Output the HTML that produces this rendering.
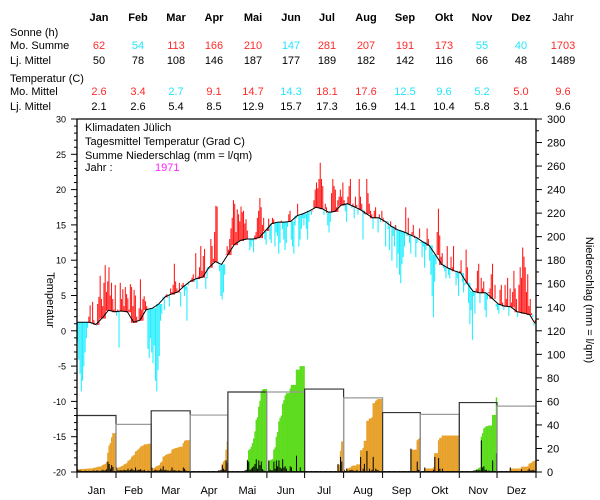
<!DOCTYPE html>
<html><head><meta charset="utf-8">
<style>
body{margin:0;background:#fff;width:600px;height:500px;overflow:hidden;font-family:"Liberation Sans",sans-serif;}
svg{position:absolute;left:0;top:0}
</style></head>
<body>
<svg id="c" width="600" height="500"></svg>
<script>
const months=["Jan","Feb","Mar","Apr","Mai","Jun","Jul","Aug","Sep","Okt","Nov","Dez"];
const monthDays=[31,28,31,30,31,30,31,31,30,31,30,31];
const sunSum=[62,54,113,166,210,147,281,207,191,173,55,40];
const sunSumYear=1703;
const sunMean=[50,78,108,146,187,177,189,182,142,116,66,48];
const sunMeanYear=1489;
const tMon=[2.6,3.4,2.7,9.1,14.7,14.3,18.1,17.6,12.5,9.6,5.2,5.0];
const tMonYear=9.6;
const tMean=[2.1,2.6,5.4,8.5,12.9,15.7,17.3,16.9,14.1,10.4,5.8,3.1];
const tMeanYear=9.6;
const tempTicks=[-20,-15,-10,-5,0,5,10,15,20,25,30];
const precTicks=[0,20,40,60,80,100,120,140,160,180,200,220,240,260,280,300];
// long-term mean temperature, every 5 days (last point = day 364)
const meanCurve=[1.2,1.2,1.2,0.9,1.8,2.9,2.7,2.8,2.7,1.2,1.5,3.0,3.2,3.8,4.8,5.2,5.5,6.3,7.0,7.4,7.6,9.0,9.8,9.4,10.8,12.2,12.8,13.0,13.0,13.2,14.2,15.2,15.4,15.4,15.5,16.3,16.6,17.0,17.5,17.3,16.8,16.9,17.8,18.0,17.6,17.2,16.6,16.0,16.0,15.5,14.8,14.3,14.0,13.6,13.2,12.6,12.1,10.8,9.4,8.9,8.5,8.2,6.8,5.6,5.4,5.4,4.6,3.8,3.5,3.4,2.7,2.5,2.3,1.1];
// daily mean temperature 1971
const tJan=[-1.5,-4,-6,-8.5,-7,-5,-3,-1,0.5,2,3.6,1.0,4.1,1.5,1.0,0.8,3.8,4.8,7.8,4.5,3.5,6.8,9.3,5.5,7.0,9.0,5.0,6.8,4.5,3.0,6.5];
const tFeb=[2.2,3.0,-2.3,6.8,4.5,5.9,3.5,6.2,5.2,4.6,3.0,6.6,6.2,3.5,5.8,5.0,2.0,1.5,3.2,7.3,3.0,4.5,4.9,4.2,3.5,-2.5,-3.8,-1.0];
const tMar=[-3,-4.5,-2,-7,-8.5,-5.5,-3.5,1.5,2.5,4.5,3.0,5.0,5.2,4.8,3.5,6.0,5.5,6.5,9.5,7.0,6.0,5.5,6.8,3.5,6.5,6.8,5.0,5.8,1.5,6.5,7.0];
const tApr=[7.2,7.5,8.0,7.0,11.0,6.0,7.7,9.0,12.0,8.5,10.6,11.6,6.0,7.5,9.0,8.8,13.0,12.0,10.2,14.0,17.7,17.6,9.5,8.5,5.0,4.5,5.5,8.0,10.8,12.0];
const tMai=[11.5,13.0,14.5,16.0,18.5,18.0,14.0,17.2,16.5,15.5,17.6,16.8,17.0,15.2,15.8,14.2,13.0,11.5,12.0,12.8,11.2,13.5,14.0,16.0,17.0,18.8,17.5,15.0,16.0,13.0,12.3];
const tJun=[14.5,15.9,13.0,12.5,16.0,15.8,12.0,14.0,13.5,11.0,12.5,15.6,14.5,13.0,11.5,12.5,14.8,16.5,17.0,13.0,12.0,11.0,15.0,16.0,18.0,12.0,13.0,14.5,16.0,15.0];
const tJul=[16.0,14.5,13.0,15.5,17.0,16.5,17.0,18.5,20.0,21.0,20.2,21.5,23.8,21.5,20.5,16.5,18.0,17.5,15.0,14.0,15.5,19.5,21.5,20.5,20.0,17.5,18.5,19.0,20.0,19.0,21.0];
const tAug=[18.5,17.0,15.5,19.0,20.5,21.5,17.5,18.0,16.0,19.0,17.8,16.5,21.5,19.0,18.0,13.0,17.0,16.5,21.5,19.5,18.0,17.0,16.5,14.5,17.0,17.5,16.0,14.0,16.5,15.5,17.0];
const tSep=[16.0,15.5,12.0,15.5,14.5,11.5,15.5,10.0,13.5,12.0,15.0,9.0,11.0,8.0,6.8,9.5,10.5,12.0,17.5,13.5,16.0,12.5,11.0,14.0,15.0,13.5,10.5,12.5,13.0,14.5];
const tOkt=[12.5,10.5,12.0,9.0,11.5,14.5,13.0,10.0,8.0,5.0,2.0,7.0,9.5,14.0,17.3,13.5,10.5,11.0,9.0,8.5,7.5,12.0,8.0,7.5,10.5,9.0,12.0,8.5,6.5,7.5,5.0];
const tNov=[8.5,10.0,7.0,5.5,6.5,11.5,9.0,4.0,1.0,3.0,-1.2,5.0,2.5,6.0,8.5,9.5,4.0,7.5,6.0,7.0,3.0,2.0,4.5,5.5,6.0,8.0,9.5,4.5,6.5,3.5];
const tDez=[3.0,2.5,5.8,6.5,4.0,3.0,6.5,4.5,7.5,2.2,6.0,4.0,5.5,8.5,6.0,4.5,2.0,6.5,9.0,7.5,11.8,10.5,9.0,5.5,8.0,3.5,4.5,2.5,2.0,0.8,1.5];
// daily precipitation 1971 (mm)
const pJan=[1.5,0.5,0.5,0,0,0,0.3,0,0,0.2,0,0,0.2,0.5,0,0.3,0.5,0,0.2,0.3,1,0.5,0.5,1.5,8,6,2,5,3.5,0,0];
const pFeb=[3,0.5,0.5,0.5,0.5,0.5,1,0.5,0.5,2,0.5,1,2,1,0.5,3,0.5,1,1,1.5,0.5,0.5,1,0,0,0.5,0,0];
const pMar=[3,0,0.5,1,0.5,0.5,0.5,2,1,4,0.5,1,0.5,0.5,0,0.5,3,0.5,0.5,0.5,0,0.5,0.3,0.2,0,3,2,0.5,0,0,0];
const pApr=[0,0,0,0,0,0,0,0,0,0,0,0,0,0,0,0,0,0,0,0,0,0,0.5,0.5,1,5,2,1,9,7];
const pMai=[0,0,0,0,0,0,0,0,0,0,0,0,0,0.5,1,9,8,1,2,3,4,6,10,2,9,5,8,1.5,0.5,0,0];
const pJun=[0,9,1,0.5,0.5,8,2,9,4,9,3,2,10,3,4,2,0,0,4,3,0,0,0,13,0,0,3,0,0,0];
const pJul=[0,0,0,0,0,0,0,0,0,0,0,0,0,0,0,0,0,0,0,0,0,0,0,0,0,0,6,0,12,8,0];
const pAug=[1,0,2,0,0.5,0.5,1,0.5,0,0,1,0,0,12,0,2,6,0,17,0,2,0,1,12,0,2,1,0.5,0,0,0];
const pSep=[0,0,0,0,0,0,0,0,0,0,0,0,0,0,0,0,0,0,0,0,0,0,19,0,0,0,0,8,1,1];
const pOkt=[0,0,0,3,0,0,0,0,0,0,1,12,0,0,11,2,0,2,0,0,0,0,0,0,0,0,0,0,0,0,0];
const pNov=[0,0,0,0,0,0,0,0,0,0,0,0.5,0.5,1,0.5,1,0.5,26,3,4,1,1,0,0.5,0,0,9,0,0,15];
const pDez=[0,0,0,0,0,0,0,0,0,0,3,0,0,0,0,0,0,0,0,1.5,0,0,0,0,0.5,2,0.5,0.5,1,0.5,0];
const pMean=[48,40.5,52,48.4,68,68,70.5,63,50.5,49,59,56];

const NS="http://www.w3.org/2000/svg";
const svg=document.getElementById('c');
function el(tag,attrs,parent){const e=document.createElementNS(NS,tag);for(const k in attrs)e.setAttribute(k,attrs[k]);(parent||svg).appendChild(e);return e;}
const X0=77,X1=536,Y0=472,Y1=119;
const dayW=(X1-X0)/365;
const xDay=d=>X0+d*dayW;
const yT=t=>Y0-(t+20)*(Y0-Y1)/50;
const yP=p=>Y0-p*(Y0-Y1)/300;
const F='"Liberation Sans",sans-serif';

// ---- table ----
const colX=[99,138,176,214,253,291,327,366,405,444,482,521];
function txt(x,y,s,opts){const t=el('text',Object.assign({x:x,y:y,'font-family':F,'font-size':11},opts||{}));t.textContent=s;return t;}
const hdr=el('g',{});


months.forEach((m,i)=>{hdr.appendChild(txt(colX[i],21,m,{'text-anchor':'middle','font-weight':'bold'}));});
hdr.appendChild(txt(563,21,"Jahr",{'text-anchor':'middle'}));
const rowLab=[["Sonne (h)",36],["Mo. Summe",49],["Lj. Mittel",64],["Temperatur (C)",82],["Mo. Mittel",95],["Lj. Mittel",110]];
const lab=el('g',{});


rowLab.forEach(r=>lab.appendChild(txt(10,r[1],r[0])));
function row(vals,yv,color,name,total,fmt){
  const g=el('g',{});
  
  
  vals.forEach((v,i)=>{const c=typeof color==='function'?color(i):color;g.appendChild(txt(colX[i],yv,fmt(v),{'text-anchor':'middle',fill:c}));});
  g.appendChild(txt(563,yv,fmt(total),{'text-anchor':'middle',fill:typeof color==='function'?'#ff2a2a':color}));
}
const RED='#ff2a2a',CY='#22e6ff';
row(sunSum,49,i=>sunSum[i]>=sunMean[i]?RED:CY,'sun-monthly-sum',sunSumYear,v=>String(v));
row(sunMean,64,'#000','sun-longterm-mean',sunMeanYear,v=>String(v));
row(tMon,95,i=>tMon[i]>=tMean[i]?RED:CY,'temp-monthly-mean',tMonYear,v=>v.toFixed(1));
row(tMean,110,'#000','temp-longterm-mean',tMeanYear,v=>v.toFixed(1));

// ---- precipitation (bottom) ----
const precip=[pJan,pFeb,pMar,pApr,pMai,pJun,pJul,pAug,pSep,pOkt,pNov,pDez];
const temps=[tJan,tFeb,tMar,tApr,tMai,tJun,tJul,tAug,tSep,tOkt,tNov,tDez];
let dStart=0;
const monthStart=[];
for(let m=0;m<12;m++){monthStart.push(dStart);dStart+=monthDays[m];}
monthStart.push(365);
for(let m=0;m<12;m++){
  const arr=precip[m];
  const tot=arr.reduce((a,b)=>a+b,0);
  const col=tot>pMean[m]?'#5ddc1e':'#e8a22c';
  let cum=0;
  arr.forEach((p,i)=>{
    cum+=p;
    const d=monthStart[m]+i;
    const r=el('rect',{x:xDay(d),y:yP(cum),width:dayW+0.2,height:Y0-yP(cum),fill:col});
    
    
  });
  arr.forEach((p,i)=>{
    const d=monthStart[m]+i;
    const r=el('rect',{x:xDay(d)+0.2,y:yP(p)-1,width:1,height:Y0-yP(p)+1,fill:'#000'});
    
    
  });
  const b=el('path',{d:`M${xDay(monthStart[m])},${Y0} V${yP(pMean[m])} H${xDay(monthStart[m+1])} V${Y0}`,fill:'none',stroke:m%2?'#999':'#333','stroke-width':1.2});
  
  
}

// ---- temperature bars ----
const daily=[].concat(...temps);
const meanAt=d=>meanCurve[Math.min(meanCurve.length-1,Math.round(d/5))];
daily.forEach((t,d)=>{
  const m=meanAt(d);
  const ya=yT(t),yb=yT(m);
  const r=el('rect',{x:xDay(d),y:Math.min(ya,yb),width:dayW*0.85,height:Math.abs(ya-yb)+0.5,fill:t>=m?'#ff1a1a':'#22eeff'});
  
  
});
const pts=meanCurve.map((v,i)=>`${xDay(Math.min(i*5,364)).toFixed(1)},${yT(v).toFixed(1)}`).join(' ');
const ml=el('polyline',{points:pts,fill:'none',stroke:'#000','stroke-width':1});



// ---- axes ----
const ax=el('g',{stroke:'#000','stroke-width':1.3,fill:'none'});


el('path',{d:`M${X0},${Y1} H${X1} M${X0},${Y1} V${Y0} M${X1},${Y1} V${Y0} M${X0},${Y0} H${X1}`},ax);
for(let t=-20;t<=30;t++){const y=yT(t);el('line',{x1:X0-(t%5===0?6:3),x2:X0,y1:y,y2:y,'stroke-width':1},ax);}
for(let p=0;p<=300;p+=10){const y=yP(p);el('line',{x1:X1,x2:X1+(p%20===0?6:3),y1:y,y2:y,'stroke-width':1},ax);}
for(let m=0;m<=12;m++){const x=xDay(monthStart[m]);el('line',{x1:x,x2:x,y1:Y0,y2:Y0+6,'stroke-width':1},ax);}
const lt=el('g',{});


tempTicks.forEach(t=>lt.appendChild(txt(66,yT(t)+3.5,String(t),{'text-anchor':'end','font-size':9})));
const rt=el('g',{});


precTicks.forEach(p=>rt.appendChild(txt(547,yP(p)+4,String(p),{'font-size':11})));
const mt=el('g',{});


months.forEach((m,i)=>mt.appendChild(txt((xDay(monthStart[i])+xDay(monthStart[i+1]))/2,494,m,{'text-anchor':'middle','font-size':11})));
const yl=txt(0,0,"Temperatur",{'text-anchor':'middle',transform:'translate(47,300) rotate(90)'});


const yr=txt(0,0,"Niederschlag (mm = l/qm)",{'text-anchor':'middle',transform:'translate(586,300) rotate(90)'});



// ---- title block ----
const tb=el('g',{});


tb.appendChild(txt(85,131,"Klimadaten Jülich"));
tb.appendChild(txt(85,145,"Tagesmittel Temperatur (Grad C)"));
tb.appendChild(txt(85,159,"Summe Niederschlag (mm = l/qm)"));
tb.appendChild(txt(85,171,"Jahr :"));
tb.appendChild(txt(155,171,"1971",{fill:'#ff22ff'}));
</script>
</body></html>
